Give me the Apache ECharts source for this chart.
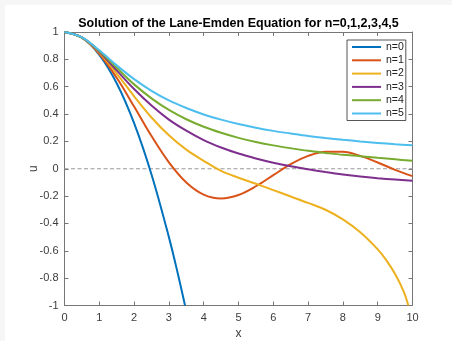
<!DOCTYPE html>
<html>
<head>
<meta charset="utf-8">
<script src="https://cdn.jsdelivr.net/npm/echarts@6/dist/echarts.min.js"></script>
<style>
  html, body { margin: 0; padding: 0; background: #f6f6f6; }
  #chart { position: absolute; left: 5px; top: 5px; width: 447px; height: 336px; background: #ffffff; }
</style>
</head>
<body>
<div id="chart"></div>
<script>
// Lane-Emden solutions u(x) for polytropic index n = 0..5
const titleText = 'Solution of the Lane-Emden Equation for n=0,1,2,3,4,5';
const seriesNames = ['n=0', 'n=1', 'n=2', 'n=3', 'n=4', 'n=5'];
const seriesColors = ['#0072BD', '#D95319', '#EDB120', '#7E2F8E', '#77AC30', '#4DBEEE'];

const xGrid = [0, 0.5, 1, 1.5, 2, 2.5, 3, 3.5, 4, 4.5, 5, 5.5, 6, 6.5, 7, 7.5, 8, 8.5, 9, 9.5, 10];

const n0X = [0, 0.5, 1, 1.5, 2, 2.5, 3, 3.25, 3.464];
const n0U = [1, 0.958, 0.833, 0.625, 0.333, -0.042, -0.5, -0.76, -1];

const n1U = [1, 0.959, 0.841, 0.665, 0.455, 0.239, 0.047, -0.100, -0.189, -0.217, -0.192,
             -0.128, -0.047, 0.033, 0.094, 0.125, 0.124, 0.094, 0.046, -0.008, -0.054];

const n2X = [0, 0.5, 1, 1.5, 2, 2.5, 3, 3.5, 4, 4.5, 5, 5.5, 6, 6.5, 7, 7.5, 8, 8.5, 9,
             9.25, 9.5, 9.75, 9.88];
const n2U = [1, 0.959, 0.849, 0.696, 0.530, 0.375, 0.245, 0.140, 0.058, -0.016, -0.066,
             -0.110, -0.156, -0.203, -0.250, -0.300, -0.370, -0.465, -0.590,
             -0.670, -0.770, -0.900, -1.0];

const n3U = [1, 0.960, 0.855, 0.719, 0.583, 0.462, 0.359, 0.278, 0.209, 0.155, 0.111,
             0.075, 0.044, 0.018, -0.004, -0.024, -0.042, -0.057, -0.069, -0.079, -0.088];

const n4U = [1, 0.960, 0.861, 0.738, 0.617, 0.515, 0.430, 0.362, 0.307, 0.263, 0.226,
             0.196, 0.171, 0.150, 0.131, 0.116, 0.102, 0.092, 0.080, 0.069, 0.058];

const n5U = [1, 0.961, 0.866, 0.756, 0.655, 0.570, 0.500, 0.444, 0.397, 0.359, 0.327,
             0.300, 0.277, 0.258, 0.240, 0.225, 0.212, 0.200, 0.189, 0.179, 0.171];

const zeroLineX = [0, 10];
const zeroLineU = [0, 0];

const xTicks = { min: 0, max: 10, interval: 1 };
const yTicks = { min: -1, max: 1, interval: 0.2 };

function pairs(xs, us) { return xs.map((x, i) => [x, us[i]]); }

const curves = [
  pairs(n0X, n0U),
  pairs(xGrid, n1U),
  pairs(n2X, n2U),
  pairs(xGrid, n3U),
  pairs(xGrid, n4U),
  pairs(xGrid, n5U)
];

const FONT = 'Liberation Sans, Arial, Helvetica, sans-serif';
const AXIS_COLOR = '#767676';
const LABEL_COLOR = '#3c3c3c';

function axisBase(extra) {
  return Object.assign({
    type: 'value',
    axisLine: { show: true, onZero: false, lineStyle: { color: AXIS_COLOR, width: 1 } },
    axisTick: { show: true, inside: true, length: 4, lineStyle: { color: AXIS_COLOR } },
    splitLine: { show: false }
  }, extra);
}

const chart = echarts.init(document.getElementById('chart'), null, { renderer: 'canvas' });

const option = {
  animation: false,
  backgroundColor: '#ffffff',
  graphic: [{
    type: 'text',
    x: 233.5, y: 19,
    style: {
      text: titleText,
      font: 'bold 12.5px ' + FONT,
      fill: '#000000',
      textAlign: 'center',
      textVerticalAlign: 'middle'
    }
  }],
  grid: {
    left: 59.5, right: 39.5, top: 27, bottom: 35.5,
    containLabel: false,
    outerBoundsMode: 'none'
  },
  xAxis: [
    axisBase({
      min: xTicks.min, max: xTicks.max, interval: xTicks.interval, position: 'bottom',
      axisLabel: { margin: 7, fontSize: 11, color: LABEL_COLOR, fontFamily: FONT },
      name: 'x', nameLocation: 'middle', nameGap: 22, nameMoveOverlap: false,
      nameTextStyle: { fontSize: 12, color: LABEL_COLOR, fontFamily: FONT }
    }),
    axisBase({
      min: xTicks.min, max: xTicks.max, interval: xTicks.interval, position: 'top',
      axisLabel: { show: false }
    })
  ],
  yAxis: [
    axisBase({
      min: yTicks.min, max: yTicks.max, interval: yTicks.interval, position: 'left',
      axisLabel: { margin: 6, fontSize: 11, color: LABEL_COLOR, fontFamily: FONT },
      name: 'u', nameLocation: 'middle', nameGap: 25, nameRotate: 90, nameMoveOverlap: false,
      nameTextStyle: { fontSize: 12, color: LABEL_COLOR, fontFamily: FONT }
    }),
    axisBase({
      min: yTicks.min, max: yTicks.max, interval: yTicks.interval, position: 'right',
      axisLabel: { show: false }
    })
  ],
  legend: {
    data: seriesNames,
    orient: 'vertical',
    left: 342, top: 35,
    itemWidth: 29, itemHeight: 10, itemGap: 2.3,
    padding: [1.5, 2, 1.5, 4],
    borderColor: '#2a2a2a', borderWidth: 0.8,
    backgroundColor: '#ffffff',
    textStyle: { fontSize: 10.5, color: '#222222', fontFamily: FONT },
    itemStyle: { opacity: 0 }
  },
  series: [
    {
      name: 'zero',
      type: 'line',
      data: pairs(zeroLineX, zeroLineU),
      symbol: 'none',
      silent: true,
      lineStyle: { color: '#9a9a9a', width: 1, type: [4, 2.5] },
      z: 1
    }
  ].concat(curves.map((d, i) => ({
    name: seriesNames[i],
    type: 'line',
    data: d,
    symbol: 'none',
    smooth: 0.35,
    clip: true,
    color: seriesColors[i],
    lineStyle: { color: seriesColors[i], width: 2 },
    z: 2 + i
  })))
};

chart.setOption(option);
</script>
</body>
</html>
